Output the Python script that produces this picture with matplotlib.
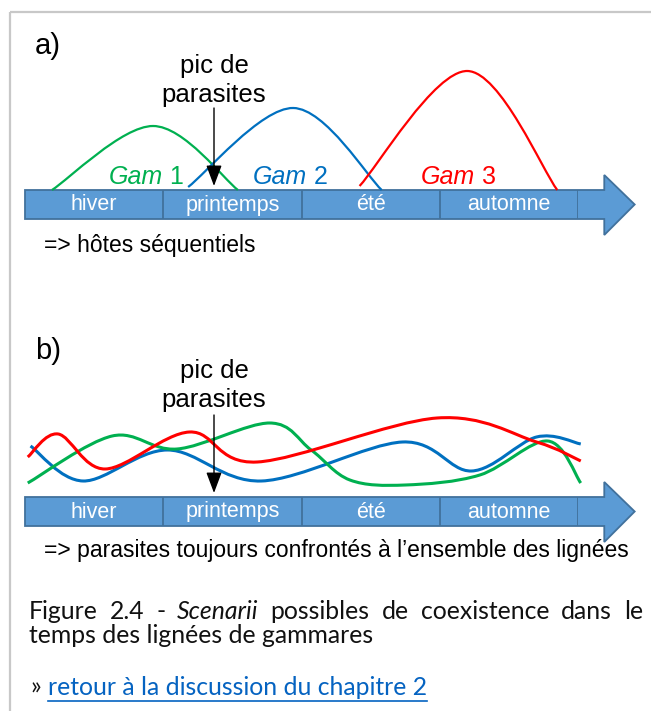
import numpy as np
import matplotlib
matplotlib.use('Agg')
import matplotlib.pyplot as plt
from matplotlib.path import Path
from matplotlib.patches import PathPatch, Polygon

W, H = 651, 711

# seasons along the time arrow
seasons = ['hiver', 'printemps', 'été', 'automne']

# a) sequential hosts : (position in seasons, relative abundance)
gam_labels = ['1', '2', '3']
gam_colors = ['#00B050', '#0070C0', '#FF0000']
gam1_x = [0.195, 0.926, 1.54]
gam1_y = [0.0, 0.64, 0.0]
gam2_x = [1.18, 1.94, 2.58]
gam2_y = [0.03, 0.82, 0.0]
gam3_x = [2.42, 3.20, 3.85]
gam3_y = [0.04, 1.19, 0.0]

# b) all lineages present all year long
red_x = [0.02, 0.24, 0.58, 1.19, 1.68, 2.98, 3.70, 4.02]
red_y = [0.40, 0.63, 0.28, 0.65, 0.35, 0.79, 0.55, 0.36]
green_x = [0.02, 0.63, 1.10, 1.77, 2.07, 2.35, 2.75, 3.29, 3.78, 4.02]
green_y = [0.14, 0.61, 0.48, 0.74, 0.47, 0.17, 0.12, 0.22, 0.56, 0.14]
blue_x = [0.04, 0.42, 1.03, 1.71, 2.73, 3.23, 3.70, 4.02]
blue_y = [0.51, 0.16, 0.47, 0.16, 0.55, 0.26, 0.60, 0.53]

caption1 = ['Figure', '2.4', '-', 'Scenarii', 'possibles', 'de', 'coexistence', 'dans', 'le']
caption2 = 'temps des lignées de gammares'
link_text = 'retour à la discussion du chapitre 2'

SANS = 'Liberation Sans'
CAP = 'Lato'
BAR = '#5B9BD5'
BAR_EDGE = '#41719C'


def smooth_path(xs, ys):
  # catmull-rom through the points, drawn as cubic bezier by matplotlib
  P = np.column_stack([xs, ys]).astype(float)
  ext = np.vstack([P[0], P, P[-1]])
  verts = [P[0]]
  codes = [Path.MOVETO]
  for i in range(len(P) - 1):
    p0, p1, p2, p3 = ext[i], ext[i + 1], ext[i + 2], ext[i + 3]
    verts += [p1 + (p2 - p0) / 6, p2 - (p3 - p1) / 6, p2]
    codes += [Path.CURVE4] * 3
  return Path(verts, codes)


def panel(top):
  ax = fig.add_axes([25 / W, (H - (top + 50)) / H, 553 / W, 190 / H])
  ax.set_xlim(0, 4)
  ax.set_ylim(-0.5, 1.4)
  ax.axis('off')
  outline = [(0, 0), (4.19, 0), (4.19, 0.15), (4.41, -0.145), (4.19, -0.45),
             (4.19, -0.29), (0, -0.29)]
  ax.add_patch(Polygon(outline, closed=True, fc=BAR, ec=BAR_EDGE, lw=1.3, clip_on=False))
  ax.vlines(range(1, 5), -0.29, 0, color=BAR_EDGE, lw=1.3)
  for i, s in enumerate(seasons):
    ax.text(i + 0.5, -0.15, s, color='white', ha='center', va='center',
            fontsize=15.5, family=SANS)
  return ax


fig = plt.figure(figsize=(W / 100, H / 100), dpi=100)
fig.patch.set_facecolor('white')
renderer = fig.canvas.get_renderer()

ax_a = panel(190)
for xs, ys, c in zip([gam1_x, gam2_x, gam3_x], [gam1_y, gam2_y, gam3_y], gam_colors):
  ax_a.add_patch(PathPatch(smooth_path(xs, ys), fill=False, ec=c, lw=1.6, clip_on=False))

ax_b = panel(497)
for xs, ys, c in zip([blue_x, green_x, red_x], [blue_y, green_y, red_y],
                     ['#0070C0', '#00B050', '#FF0000']):
  ax_b.add_patch(PathPatch(smooth_path(xs, ys), fill=False, ec=c, lw=2.2, clip_on=False))

# overlay in pixel coordinates for frame, texts and arrows
ax = fig.add_axes([0, 0, 1, 1])
ax.set_xlim(0, W)
ax.set_ylim(H, 0)
ax.axis('off')
ax.patch.set_alpha(0)

ax.plot([10, 10], [12, H], color='#C8C8C8', lw=1.6, solid_capstyle='butt')
ax.plot([10, W], [12, 12], color='#C8C8C8', lw=1.6, solid_capstyle='butt')

for label, dy in [('a)', 0), ('b)', 305)]:
  ax.text(35, 54 + dy, label, fontsize=21, family=SANS, va='baseline')
  ax.text(214, 73 + dy, 'pic de', fontsize=18.5, family=SANS, ha='center', va='baseline')
  ax.text(214, 102 + dy, 'parasites', fontsize=18.5, family=SANS, ha='center', va='baseline')

for dy in [0, 307]:
  ax.annotate('', xy=(214, 186 + dy), xytext=(214, 108 + dy),
              arrowprops=dict(arrowstyle='-|>,head_length=0.8,head_width=0.3',
                              color='black', lw=1, mutation_scale=16,
                              shrinkA=0, shrinkB=0))

# Gam labels : italic name + upright number
for cx, num, c in zip([146, 290, 458], gam_labels, gam_colors):
  t1 = ax.text(0, 184, 'Gam', fontsize=18, family=SANS, style='italic', color=c, va='baseline')
  t2 = ax.text(0, 184, ' ' + num, fontsize=18, family=SANS, color=c, va='baseline')
  w1 = t1.get_window_extent(renderer).width
  w2 = t2.get_window_extent(renderer).width
  x0 = cx - (w1 + w2) / 2
  t1.set_x(x0)
  t2.set_x(x0 + w1)

ax.text(44, 252, '=> hôtes séquentiels', fontsize=16.5, family=SANS, va='baseline')
ax.text(44, 557, '=> parasites toujours confrontés à l\u2019ensemble des lignées',
        fontsize=16.5, family=SANS, va='baseline')

# caption, font fitted to the width of the second line
probe = ax.text(0, 0, caption2, fontsize=10, family=CAP)
cap_size = 10 * 344 / probe.get_window_extent(renderer).width
probe.remove()

words = []
for w in caption1:
  words.append(ax.text(0, 619, w, fontsize=cap_size, family=CAP, va='baseline',
                       style='italic' if w == 'Scenarii' else 'normal', color='#111111'))
widths = [t.get_window_extent(renderer).width for t in words]
gap = (643 - 29 - sum(widths)) / (len(words) - 1)
x = 29
for t, w in zip(words, widths):
  t.set_x(x)
  x += w + gap

ax.text(29, 643, caption2, fontsize=cap_size, family=CAP, va='baseline', color='#111111')
ax.text(30, 695, '»', fontsize=cap_size, family=CAP, va='baseline', color='#111111')
lk = ax.text(48, 695, link_text, fontsize=cap_size, family=CAP, va='baseline', color='#0563C1')
lw_ = lk.get_window_extent(renderer).width
ax.plot([48, 48 + lw_], [701, 701], color='#0563C1', lw=1.2)

fig.savefig('out.png', dpi=100, facecolor='white')
